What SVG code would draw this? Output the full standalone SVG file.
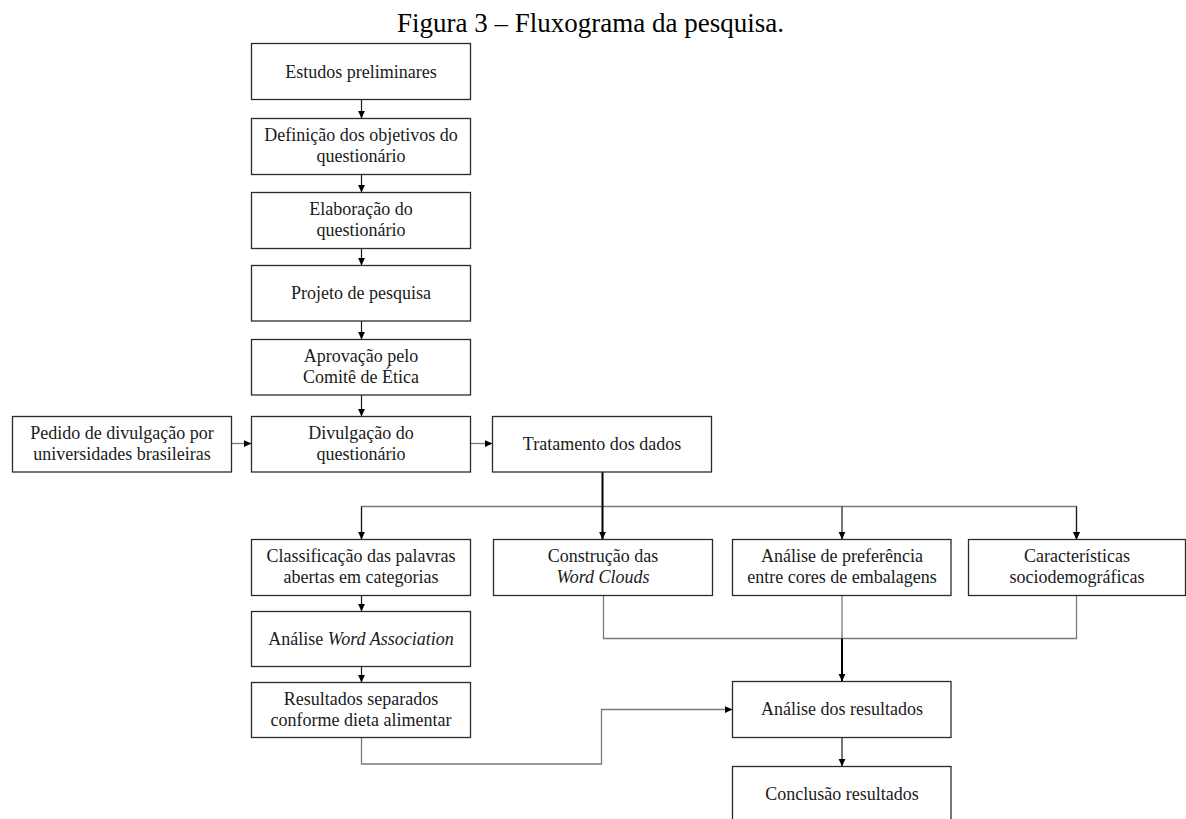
<svg xmlns="http://www.w3.org/2000/svg" width="1186" height="819" viewBox="0 0 1186 819">
<style>
text{font-family:"Liberation Serif","Times New Roman",serif;font-size:18px;fill:#1a1a1a;text-anchor:middle}
.title{font-size:27px;text-anchor:start;fill:#000}
.box{fill:#fff;stroke:#2b2b2b;stroke-width:1.3}
.c{fill:none;stroke:#1a1a1a;stroke-width:1.2}
.g{fill:none;stroke:#7a7a7a;stroke-width:1.3}
.k{fill:none;stroke:#000;stroke-width:2}
.it{font-style:italic}
</style>
<defs>
<marker id="ah" markerUnits="userSpaceOnUse" markerWidth="8" markerHeight="8" viewBox="0 0 8 8" refX="8" refY="4" orient="auto">
<path d="M0,0.4 L8,4 L0,7.6 z" fill="#000"/>
</marker>
</defs>
<rect width="1186" height="819" fill="#fff"/>
<text class="title" x="397" y="32">Figura 3 – Fluxograma da pesquisa.</text>

<g id="connectors">
<line class="c" x1="361.5" y1="99.5" x2="361.5" y2="118.5" marker-end="url(#ah)"/>
<line class="c" x1="361.5" y1="174.5" x2="361.5" y2="192.5" marker-end="url(#ah)"/>
<line class="c" x1="361.5" y1="248.5" x2="361.5" y2="265.5" marker-end="url(#ah)"/>
<line class="c" x1="361.5" y1="321" x2="361.5" y2="339.5" marker-end="url(#ah)"/>
<line class="c" x1="361.5" y1="395" x2="361.5" y2="416.5" marker-end="url(#ah)"/>
<line class="g" x1="231.5" y1="443.5" x2="251.5" y2="443.5" marker-end="url(#ah)"/>
<line class="g" x1="470.5" y1="443.5" x2="492.5" y2="443.5" marker-end="url(#ah)"/>
<polyline class="g" points="361.5,539.5 361.5,506.5 1076.5,506.5 1076.5,539.5" marker-end="url(#ah)"/>
<line class="c" x1="361.5" y1="506.5" x2="361.5" y2="539.5" marker-end="url(#ah)"/>
<line class="c" x1="842" y1="506.5" x2="842" y2="539.5" marker-end="url(#ah)"/>
<line class="c" x1="1076.5" y1="506.5" x2="1076.5" y2="539.5" marker-end="url(#ah)"/>
<line class="k" x1="602.5" y1="472" x2="602.5" y2="539.5" marker-end="url(#ah)"/>
<polyline class="g" points="603.5,595.5 603.5,638.5 1076.5,638.5 1076.5,595.5"/>
<line class="g" x1="842" y1="595.5" x2="842" y2="638.5"/>
<line class="k" x1="842" y1="638.5" x2="842" y2="681.5" marker-end="url(#ah)"/>
<line class="c" x1="361.5" y1="595.5" x2="361.5" y2="611.5" marker-end="url(#ah)"/>
<line class="c" x1="361.5" y1="666.5" x2="361.5" y2="682.5" marker-end="url(#ah)"/>
<polyline class="g" points="361.5,737.5 361.5,764 601.5,764 601.5,709.5 732.5,709.5" marker-end="url(#ah)"/>
<line class="c" x1="842" y1="737.5" x2="842" y2="766.5" marker-end="url(#ah)"/>
</g>

<g id="n-estudos"><rect class="box" x="251.5" y="43.5" width="219" height="56"/><text x="361" y="77.5">Estudos preliminares</text></g>
<g id="n-definicao"><rect class="box" x="251.5" y="118.5" width="219" height="56"/><text x="361" y="141">Definição dos objetivos do</text><text x="361" y="162">questionário</text></g>
<g id="n-elaboracao"><rect class="box" x="251.5" y="192.5" width="219" height="56"/><text x="361" y="215">Elaboração do</text><text x="361" y="236">questionário</text></g>
<g id="n-projeto"><rect class="box" x="251.5" y="265.5" width="219" height="55.5"/><text x="361" y="299">Projeto de pesquisa</text></g>
<g id="n-aprovacao"><rect class="box" x="251.5" y="339.5" width="219" height="55.5"/><text x="361" y="362">Aprovação pelo</text><text x="361" y="383">Comitê de Ética</text></g>
<g id="n-pedido"><rect class="box" x="12.5" y="416.5" width="219" height="55.5"/><text x="122" y="439">Pedido de divulgação por</text><text x="122" y="460">universidades brasileiras</text></g>
<g id="n-divulgacao"><rect class="box" x="251.5" y="416.5" width="219" height="55.5"/><text x="361" y="439">Divulgação do</text><text x="361" y="460">questionário</text></g>
<g id="n-tratamento"><rect class="box" x="492.5" y="416.5" width="219" height="55.5"/><text x="602" y="450">Tratamento dos dados</text></g>
<g id="n-classificacao"><rect class="box" x="251.5" y="539.5" width="219" height="56"/><text x="361" y="562">Classificação das palavras</text><text x="361" y="583">abertas em categorias</text></g>
<g id="n-construcao"><rect class="box" x="493.5" y="539.5" width="219" height="56"/><text x="603" y="562">Construção das</text><text x="603" y="583" class="it">Word Clouds</text></g>
<g id="n-preferencia"><rect class="box" x="732.5" y="539.5" width="218.5" height="56"/><text x="842" y="562">Análise de preferência</text><text x="842" y="583">entre cores de embalagens</text></g>
<g id="n-caracteristicas"><rect class="box" x="968.5" y="539.5" width="217" height="56"/><text x="1077" y="562">Características</text><text x="1077" y="583">sociodemográficas</text></g>
<g id="n-wordassoc"><rect class="box" x="251.5" y="611.5" width="219" height="55"/><text x="361" y="645">Análise <tspan class="it">Word Association</tspan></text></g>
<g id="n-resultados-sep"><rect class="box" x="251.5" y="682.5" width="219" height="55"/><text x="361" y="705">Resultados separados</text><text x="361" y="726">conforme dieta alimentar</text></g>
<g id="n-analise"><rect class="box" x="732.5" y="681.5" width="218.5" height="56"/><text x="842" y="715">Análise dos resultados</text></g>
<g id="n-conclusao"><rect class="box" x="732.5" y="766.5" width="218.5" height="60"/><text x="842" y="800">Conclusão resultados</text></g>
</svg>
